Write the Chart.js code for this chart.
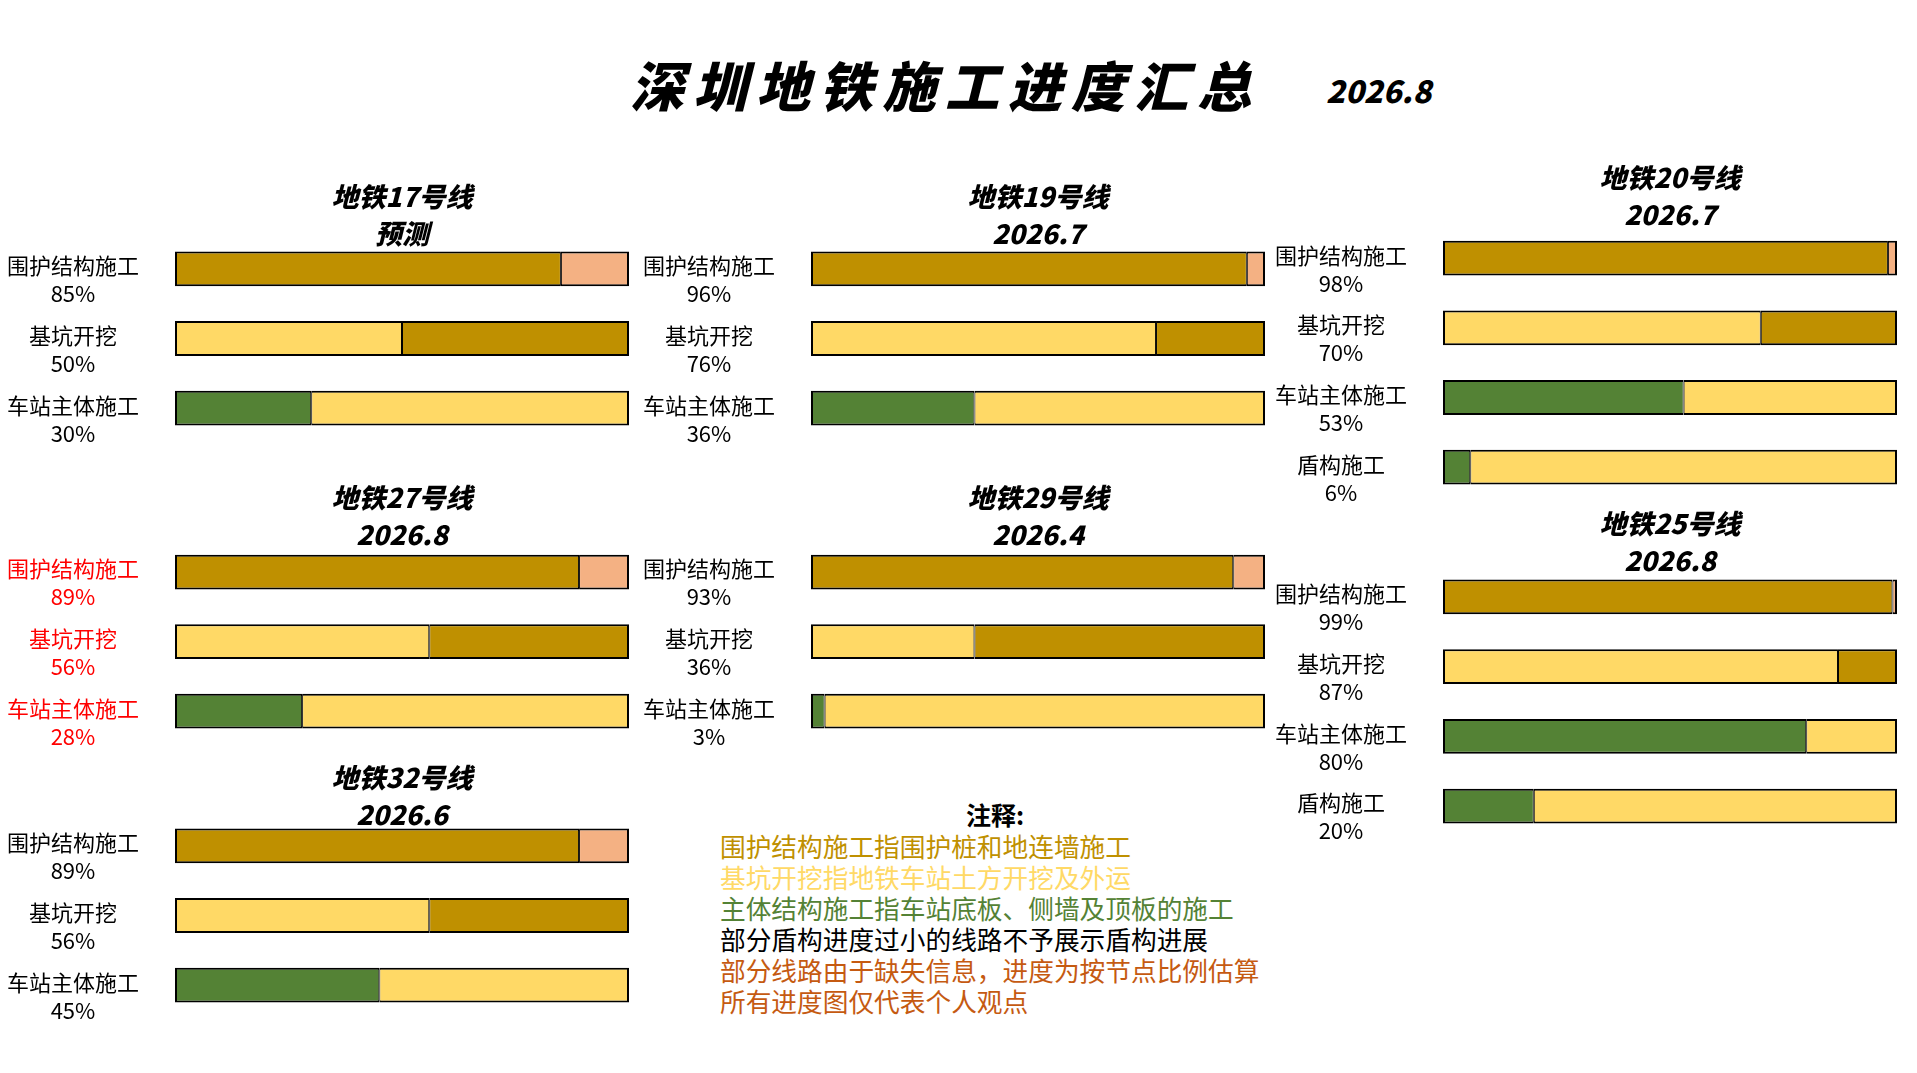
<!DOCTYPE html>
<html>
<head>
<meta charset="utf-8">
<script src="https://cdn.jsdelivr.net/npm/chart.js@4.4.1/dist/chart.umd.min.js"></script>
<style>
    body { margin: 0; background: #fff; width: 1917px; height: 1073px; overflow: hidden; position: relative; }
    .txt { position: absolute; font-family: "Noto Sans CJK SC", sans-serif; white-space: nowrap; line-height: 1; }
    #title { left: 630px; top: 57px; font-size: 54px; font-weight: 900; font-style: italic; letter-spacing: 9px; }
    #date { left: 1326px; top: 74px; font-size: 31px; font-weight: 900; font-style: italic; }
    #notesHead { left: 966px; top: 802px; font-size: 25px; font-weight: 700; }
    #notes { left: 720px; top: 830px; font-size: 25.7px; line-height: 31px; }
    canvas { position: absolute; }
</style>
</head>
<body>
<div id="title" class="txt">深圳地铁施工进度汇总</div>
<div id="date" class="txt">2026.8</div>
<div id="notesHead" class="txt">注释:</div>
<div id="notes" class="txt"></div>

<script>
// ---- data ----
const stages3 = ["围护结构施工", "基坑开挖", "车站主体施工"];
const stages4 = ["围护结构施工", "基坑开挖", "车站主体施工", "盾构施工"];

const line17 = [85, 50, 30];
const line19 = [96, 76, 36];
const line20 = [98, 70, 53, 6];
const line27 = [89, 56, 28];
const line29 = [93, 36, 3];
const line25 = [99, 87, 80, 20];
const line32 = [89, 56, 45];

const panelTitles = {
    l17: ["地铁17号线", "预测"],
    l19: ["地铁19号线", "2026.7"],
    l20: ["地铁20号线", "2026.7"],
    l27: ["地铁27号线", "2026.8"],
    l29: ["地铁29号线", "2026.4"],
    l25: ["地铁25号线", "2026.8"],
    l32: ["地铁32号线", "2026.6"]
};

const noteLines = [
    "围护结构施工指围护桩和地连墙施工",
    "基坑开挖指地铁车站土方开挖及外运",
    "主体结构施工指车站底板、侧墙及顶板的施工",
    "部分盾构进度过小的线路不予展示盾构进展",
    "部分线路由于缺失信息，进度为按节点比例估算",
    "所有进度图仅代表个人观点"
];

// ---- styles ----
const GOLD = "#BF9000", PEACH = "#F4B183", YELLOW = "#FFD966", GREEN = "#548235";
const doneColors = [GOLD, YELLOW, GREEN, GREEN];
const restColors = [PEACH, GOLD, YELLOW, YELLOW];
const noteColors = [GOLD, YELLOW, GREEN, "#000000", "#C55A11", "#C55A11"];
const FONT = '"Noto Sans CJK SC", sans-serif';

const AXIS_W = 170, BAR_W = 454, BAND = 69.7, TITLE_LH = 37;

// layout: bar left edge, centre of first title line, centre of first bar
const panels = [
    { key: "l17", stages: stages3, values: line17, barLeft: 175, titleY: 196, rowY: 268.4 },
    { key: "l19", stages: stages3, values: line19, barLeft: 811, titleY: 196, rowY: 268.4 },
    { key: "l20", stages: stages4, values: line20, barLeft: 1443, titleY: 177.3, rowY: 258 },
    { key: "l27", stages: stages3, values: line27, barLeft: 175, titleY: 497.6, rowY: 572.2, red: true },
    { key: "l29", stages: stages3, values: line29, barLeft: 811, titleY: 497.6, rowY: 572.2 },
    { key: "l25", stages: stages4, values: line25, barLeft: 1443, titleY: 523.3, rowY: 596.6 },
    { key: "l32", stages: stages3, values: line32, barLeft: 175, titleY: 777.6, rowY: 846 }
];

document.getElementById("notes").innerHTML = noteLines
    .map((t, i) => `<div style="color:${noteColors[i]}">${t}</div>`).join("");

panels.forEach(p => {
    let n = p.values.length;
    let top = p.titleY - TITLE_LH / 2;
    let areaTop = p.rowY - BAND / 2;
    let height = areaTop + n * BAND - top;

    let canvas = document.createElement("canvas");
    canvas.width = AXIS_W + BAR_W;
    canvas.height = Math.round(height);
    canvas.style.left = (p.barLeft - AXIS_W) + "px";
    canvas.style.top = Math.round(top) + "px";
    document.body.appendChild(canvas);

    let labels = p.stages.map((s, i) => [s, p.values[i] + "%"]);
    let rest = p.values.map(v => 100 - v);

    new Chart(canvas.getContext("2d"), {
        type: "bar",
        data: {
            labels: labels,
            datasets: [{
                data: p.values,
                backgroundColor: doneColors.slice(0, n),
                borderWidth: { top: 2, bottom: 2, left: 2, right: 1 }
            }, {
                data: rest,
                backgroundColor: restColors.slice(0, n),
                borderWidth: { top: 2, bottom: 2, left: 1, right: 2 }
            }]
        },
        options: {
            indexAxis: "y",
            responsive: false,
            animation: false,
            layout: { padding: 0 },
            datasets: {
                bar: {
                    borderColor: "#000",
                    borderSkipped: false,
                    barPercentage: 0.5,
                    categoryPercentage: 1
                }
            },
            scales: {
                x: { stacked: true, min: 0, max: 100, display: false },
                y: {
                    stacked: true,
                    grid: { display: false, drawTicks: false },
                    border: { display: false },
                    ticks: {
                        autoSkip: false,
                        crossAlign: "center",
                        padding: 36,
                        labelOffset: 11,
                        color: p.red ? "#FF0000" : "#000",
                        font: { family: FONT, size: 22, lineHeight: "28px" }
                    },
                    afterFit: function (scale) {
                        // fixed label column, and no extra vertical room for the labels
                        scale.width = AXIS_W;
                        scale.paddingTop = 0;
                        scale.paddingBottom = 0;
                    }
                }
            },
            plugins: {
                legend: { display: false },
                tooltip: { enabled: false },
                title: {
                    display: true,
                    fullSize: false,
                    text: panelTitles[p.key],
                    color: "#000",
                    padding: { top: 0, bottom: areaTop - top - 2 * TITLE_LH },
                    font: { family: FONT, size: 27, weight: "900", style: "italic", lineHeight: TITLE_LH + "px" }
                }
            }
        }
    });
});
</script>
</body>
</html>
